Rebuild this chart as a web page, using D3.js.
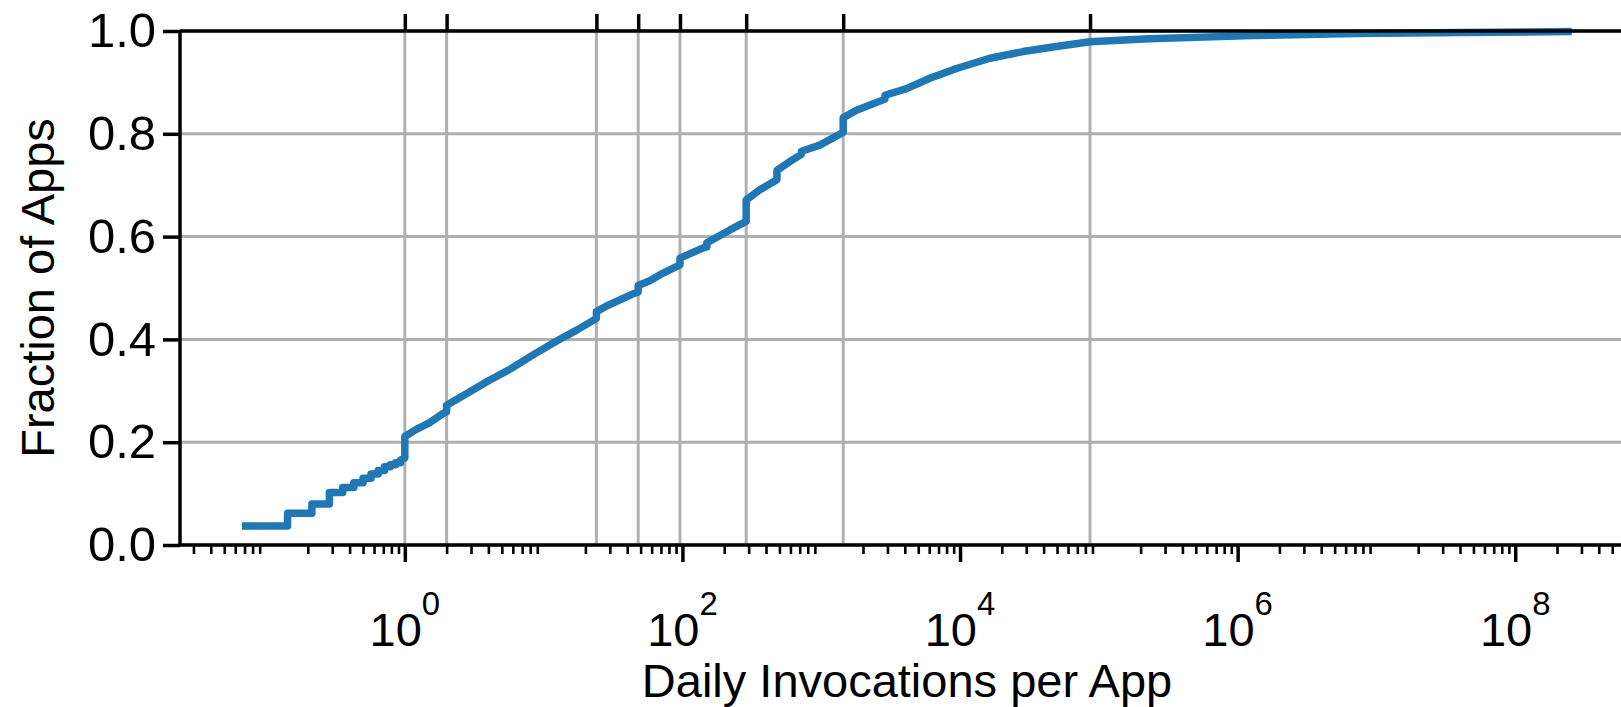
<!DOCTYPE html>
<html>
<head>
<meta charset="utf-8">
<script src="https://cdn.jsdelivr.net/npm/d3@7"></script>
<style>
  html, body { margin: 0; padding: 0; background: #fff; }
  svg { display: block; }
  text { font-family: "Liberation Sans", Arial, Helvetica, sans-serif; fill: #000; }
</style>
</head>
<body>
<svg id="chart" width="1621" height="707"></svg>
<script>
// Empirical CDF of daily invocations per app: x = invocations per day, y = fraction of apps.
// Repeated x values give the vertical jumps of the step function.
const invocations = [
  0.0714, 0.143, 0.143, 0.214, 0.214, 0.286, 0.286, 0.357, 0.357, 0.429, 0.429,
  0.5, 0.5, 0.571, 0.571, 0.643, 0.643, 0.714, 0.714, 0.786, 0.786, 0.857, 0.857,
  0.929, 0.929, 1, 1,
  1.21, 1.51, 1.89, 2, 2, 2.94, 3.98, 5.71, 8.4, 12.4, 17.3, 23.4, 24, 24, 28.4,
  35.4, 45.4, 48, 48, 58.2, 72.6, 96, 96, 141, 150, 150, 220, 286, 288, 288, 361,
  476, 480, 480, 594, 720, 720, 977, 1400, 1440, 1440, 1796, 2793, 2880, 2880,
  4116, 6058, 9440, 16400, 28500, 49500, 86400, 229000, 1.28e6, 7.1e6, 4e7, 2.4e8
];
const fractionOfApps = [
  0.037, 0.037, 0.062, 0.062, 0.080, 0.080, 0.102, 0.102, 0.112, 0.112, 0.121,
  0.121, 0.130, 0.130, 0.138, 0.138, 0.145, 0.145, 0.152, 0.152, 0.156, 0.156, 0.160,
  0.160, 0.165, 0.169, 0.211,
  0.225, 0.238, 0.256, 0.259, 0.272, 0.298, 0.319, 0.342, 0.370, 0.397, 0.418, 0.439, 0.441, 0.454, 0.465,
  0.477, 0.490, 0.492, 0.505, 0.514, 0.529, 0.545, 0.558, 0.578, 0.580, 0.588, 0.613, 0.629, 0.630, 0.671, 0.691,
  0.710, 0.712, 0.729, 0.746, 0.760, 0.766, 0.778, 0.801, 0.803, 0.831, 0.846, 0.866, 0.868, 0.875,
  0.888, 0.908, 0.927, 0.947, 0.960, 0.970, 0.979, 0.985, 0.991, 0.995, 0.997, 0.999
];

// Reference rates marked on the top axis: daily, twice a day, hourly,
// every 30 min, every 15 min, every 5 min, every minute, every second.
const referenceRates = [1, 2, 24, 48, 96, 288, 1440, 86400];

const yTickValues = [0, 0.2, 0.4, 0.6, 0.8, 1.0];
const xMajorExponents = [0, 2, 4, 6, 8];
const xLabelText = "Daily Invocations per App";
const yLabelText = "Fraction of Apps";

(function draw() {
  // ---- layout ----
  const plotLeft = 180, plotTop = 31, plotBottom = 545;
  const decadePx = 138.8;
  const xMin = 0.024, xMax = 1e9;
  const plotRight = plotLeft + decadePx * (Math.log10(xMax) - Math.log10(xMin));

  const blue = "#1f77b4";
  const gridColor = "#b0b0b0";
  const fontSize = 47;
  const yTickFontSize = 49;

  const svg = d3.select("#chart");

  const x = d3.scaleLog().domain([xMin, xMax]).range([plotLeft, plotRight]);
  const y = d3.scaleLinear().domain([0, 1]).range([plotBottom, plotTop]);

  // ---- grid ----
  const grid = svg.append("g").attr("class", "grid");
  grid.selectAll("line.hgrid")
    .data(yTickValues)
    .join("line")
    .attr("class", "hgrid")
    .attr("x1", plotLeft).attr("x2", plotRight)
    .attr("y1", d => y(d)).attr("y2", d => y(d))
    .attr("stroke", gridColor).attr("stroke-width", 3);
  grid.selectAll("line.vgrid")
    .data(referenceRates)
    .join("line")
    .attr("class", "vgrid")
    .attr("x1", d => x(d)).attr("x2", d => x(d))
    .attr("y1", plotTop).attr("y2", plotBottom)
    .attr("stroke", gridColor).attr("stroke-width", 3);

  // ---- CDF curve ----
  const points = invocations.map((v, i) => [v, fractionOfApps[i]]);
  const line = d3.line()
    .x(d => x(d[0]))
    .y(d => y(d[1]))
    .curve(d3.curveLinear);
  svg.append("path")
    .datum(points)
    .attr("d", line)
    .attr("fill", "none")
    .attr("stroke", blue)
    .attr("stroke-width", 7.5)
    .attr("stroke-linejoin", "round")
    .attr("stroke-linecap", "square");

  // ---- axes ----
  // Minor ticks: 2..9 within each decade.
  const minorTicks = [];
  for (let e = -2; e <= 9; e++) {
    for (let k = 2; k <= 9; k++) {
      const v = k * Math.pow(10, e);
      if (v >= xMin && v <= xMax) minorTicks.push(v);
    }
  }
  const majorTicks = xMajorExponents.map(e => Math.pow(10, e));

  const gBottom = svg.append("g")
    .attr("transform", `translate(0,${plotBottom})`)
    .call(d3.axisBottom(x).tickValues(majorTicks).tickSize(17).tickFormat(""));
  gBottom.select(".domain").remove();
  gBottom.selectAll(".tick line").attr("stroke", "#000").attr("stroke-width", 3.5);

  const gMinor = svg.append("g")
    .attr("transform", `translate(0,${plotBottom})`)
    .call(d3.axisBottom(x).tickValues(minorTicks).tickSize(9).tickFormat(""));
  gMinor.select(".domain").remove();
  gMinor.selectAll(".tick line").attr("stroke", "#000").attr("stroke-width", 2.6);

  // x tick labels as 10^n
  const xLabels = svg.append("g");
  xMajorExponents.forEach(e => {
    const t = xLabels.append("text")
      .attr("x", x(Math.pow(10, e)))
      .attr("y", 646)
      .attr("text-anchor", "middle")
      .attr("font-size", fontSize);
    t.append("tspan").text("10");
    t.append("tspan")
      .attr("font-size", fontSize * 0.7)
      .attr("dy", -31)
      .text(String(e));
  });

  const gTop = svg.append("g")
    .attr("transform", `translate(0,${plotTop})`)
    .call(d3.axisTop(x).tickValues(referenceRates).tickSize(17).tickFormat(""));
  gTop.select(".domain").remove();
  gTop.selectAll(".tick line").attr("stroke", "#000").attr("stroke-width", 3.5);

  const gLeft = svg.append("g")
    .attr("transform", `translate(${plotLeft},0)`)
    .call(d3.axisLeft(y).tickValues(yTickValues).tickSize(17).tickPadding(7).tickFormat(d3.format(".1f")));
  gLeft.select(".domain").remove();
  gLeft.selectAll(".tick line").attr("stroke", "#000").attr("stroke-width", 3.5);
  gLeft.selectAll(".tick text")
    .attr("font-size", yTickFontSize)
    .attr("font-family", "Liberation Sans, Arial, sans-serif")
    .attr("fill", "#000");

  // ---- spines ----
  const spines = svg.append("g").attr("stroke", "#000").attr("stroke-width", 3.5);
  spines.append("line").attr("x1", plotLeft).attr("x2", plotLeft).attr("y1", plotTop).attr("y2", plotBottom);
  spines.append("line").attr("x1", plotLeft).attr("x2", plotRight).attr("y1", plotBottom).attr("y2", plotBottom);
  spines.append("line").attr("x1", plotLeft).attr("x2", plotRight).attr("y1", plotTop).attr("y2", plotTop);
  spines.append("line").attr("x1", plotRight).attr("x2", plotRight).attr("y1", plotTop).attr("y2", plotBottom);

  // ---- axis titles ----
  svg.append("text")
    .attr("x", 907)
    .attr("y", 697)
    .attr("text-anchor", "middle")
    .attr("font-size", fontSize)
    .text(xLabelText);
  svg.append("text")
    .attr("transform", `translate(54,${(plotTop + plotBottom) / 2}) rotate(-90)`)
    .attr("text-anchor", "middle")
    .attr("font-size", fontSize)
    .text(yLabelText);
})();
</script>
</body>
</html>
